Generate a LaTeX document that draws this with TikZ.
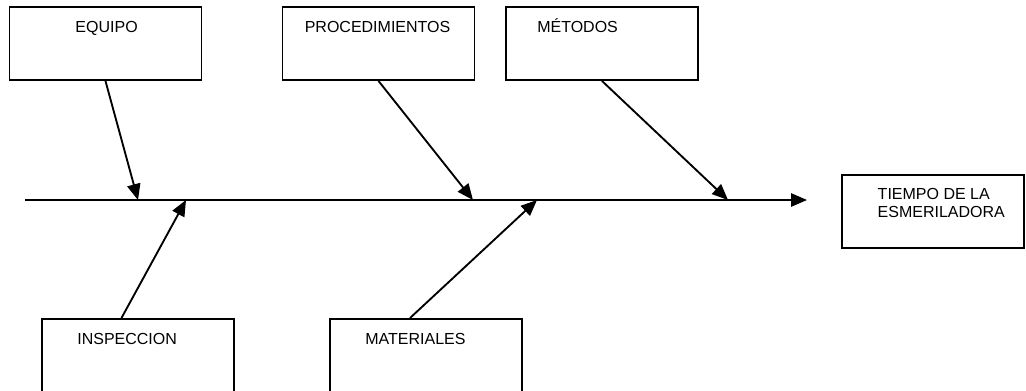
\documentclass[tikz,border=0pt]{standalone}
\usepackage{fontspec}
\setmainfont{Liberation Sans}
\usetikzlibrary{arrows.meta}
\usetikzlibrary {positioning}

\begin{document}
\begin{tikzpicture}[node distance = 204.75pt, on grid, caja/.style = {rectangle, draw, line width = 1.4pt, minimum width = 144pt, minimum height = 54.75pt}, texto/.style = {anchor = base west, inner sep = 0pt, font = \fontsize{12}{14}\selectfont}, flecha/.style = {line width = 1.4pt, -{Triangle[length = 12pt, width = 10pt]}}]
	\useasboundingbox (0pt, 0pt) rectangle (769.5pt, -292.5pt);
	\node[caja] (equipo) at (79.1pt, -32.6pt) [label = {[texto, xshift = 50pt, yshift = -19.5pt]north west:EQUIPO}] {};
	\node[caja] (proced) [right = of equipo, label = {[texto, xshift = 17.25pt, yshift = -19.5pt]north west:PROCEDIMIENTOS}] {};
	\node[caja] (metodos) [right = 167.6pt of proced, label = {[texto, xshift = 24pt, yshift = -19.5pt]north west:MÉTODOS}] {};
	\node[caja] (inspeccion) [below = 234pt of equipo, xshift = 24.4pt, label = {[texto, xshift = 27pt, yshift = -19.5pt]north west:INSPECCION}] {};
	\node[caja] (materiales) [right = 216pt of inspeccion, label = {[texto, xshift = 27pt, yshift = -19.5pt]north west:MATERIALES}] {};
	\node[caja] (tiempo) [minimum width = 136.5pt, below right = 126pt and 248.6pt of metodos, label = {[texto, xshift = 27pt, yshift = -18.75pt]north west:TIEMPO DE LA}, label = {[texto, xshift = 27pt, yshift = -32.25pt]north west:ESMERILADORA}] {};
	\coordinate (cola) at (18.75pt, -150pt);
	\coordinate (cabeza) at (605.25pt, -150pt);
	\coordinate[right = 84.75pt of cola] (p1);
	\coordinate[right = 336pt of cola] (p2);
	\coordinate[right = 527.25pt of cola] (p3);
	\coordinate[right = 120.75pt of cola] (q1);
	\coordinate[right = 384pt of cola] (q2);
	\draw[flecha] (cola) -- (cabeza);
	\draw[flecha] (equipo.south) -- (p1);
	\draw[flecha] (proced.south) -- (p2);
	\draw[flecha] (metodos.south) -- (p3);
	\draw[flecha] ([xshift = -12.4pt]inspeccion.north) -- (q1);
	\draw[flecha] ([xshift = -12pt]materiales.north) -- (q2);
\end{tikzpicture}
\end{document}
